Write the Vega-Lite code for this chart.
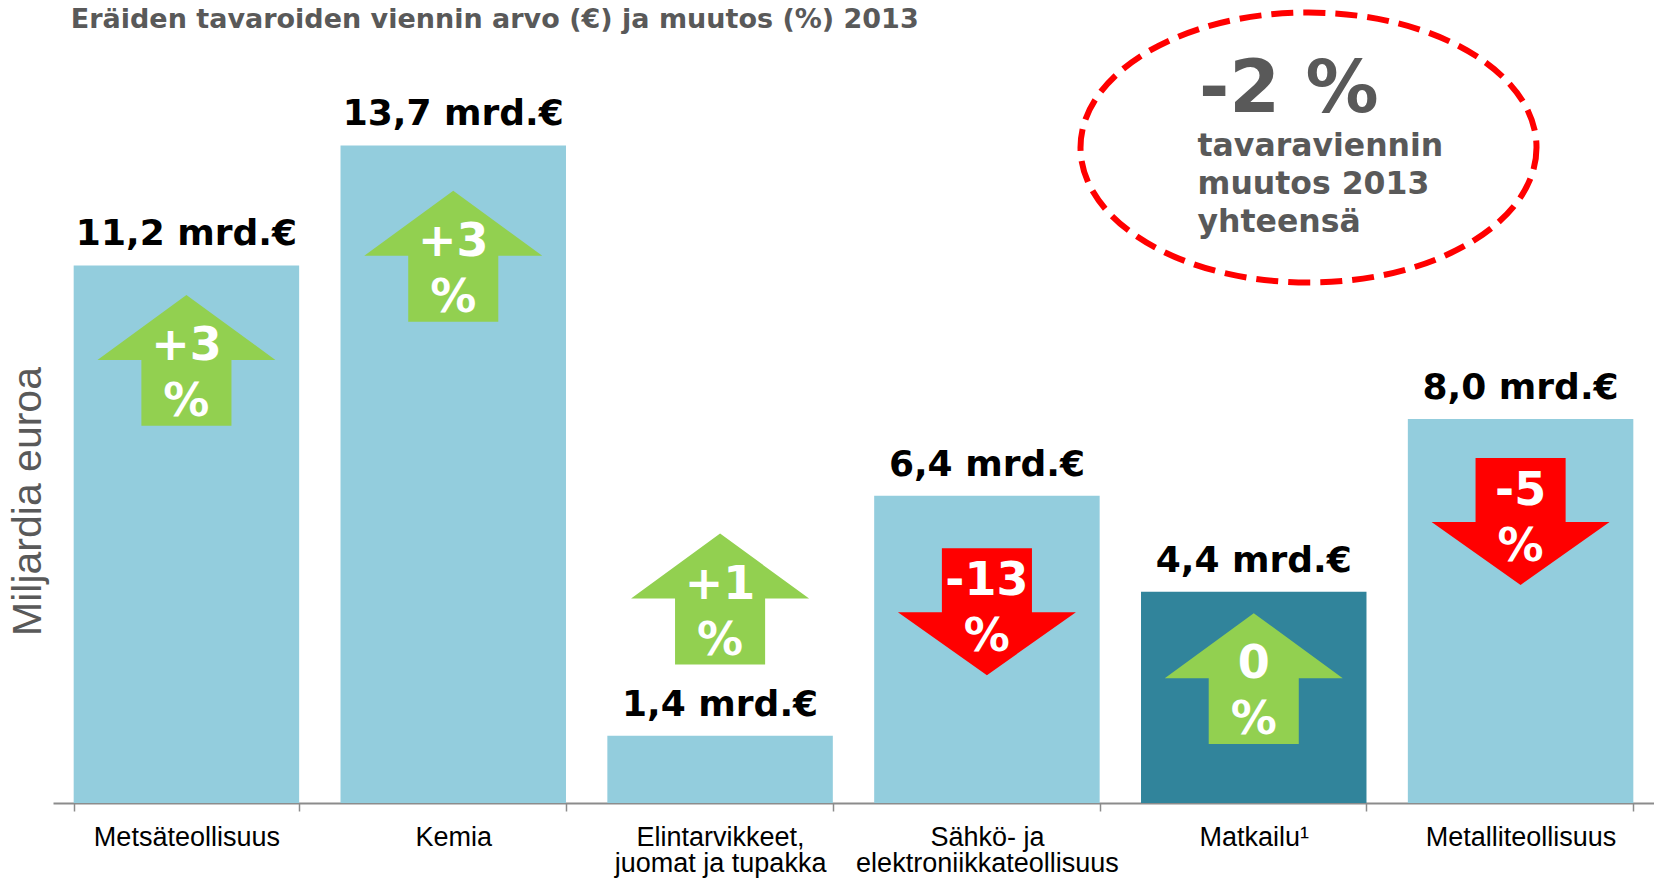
{
  "$schema": "https://vega.github.io/schema/vega-lite/v6.json",
  "width": 1601,
  "height": 768,
  "autosize": {"type": "none"},
  "padding": {"left": 53, "top": 35, "right": 0, "bottom": 75},
  "background": "#ffffff",
  "config": {"view": {"stroke": null}},
  "resolve": {"scale": {"x": "independent"}},
  "layer": [
    {
      "data": {
        "values": [
          {"sektori": "Metsäteollisuus", "arvo": 11.2, "muutos": "+3", "suunta": "ylös", "nuoli": 9.23},
          {"sektori": "Kemia", "arvo": 13.7, "muutos": "+3", "suunta": "ylös", "nuoli": 11.4},
          {"sektori": "Elintarvikkeet, juomat ja tupakka", "arvo": 1.4, "muutos": "+1", "suunta": "ylös", "nuoli": 4.26},
          {"sektori": "Sähkö- ja elektroniikkateollisuus", "arvo": 6.4, "muutos": "-13", "suunta": "alas", "nuoli": 4.33},
          {"sektori": "Matkailu¹", "arvo": 4.4, "muutos": "0", "suunta": "ylös", "nuoli": 2.6},
          {"sektori": "Metalliteollisuus", "arvo": 8.0, "muutos": "-5", "suunta": "alas", "nuoli": 6.21}
        ]
      },
      "transform": [
        {"calculate": "replace(format(datum.arvo, '.1f'), '.', ',') + ' mrd.€'", "as": "arvoTeksti"}
      ],
      "encoding": {
        "x": {
          "field": "sektori",
          "type": "nominal",
          "sort": null,
          "scale": {"paddingInner": 0.155, "paddingOuter": 0.0775},
          "axis": {
            "title": null,
            "domainColor": "#8C8C8C",
            "domainWidth": 2,
            "tickColor": "#8C8C8C",
            "tickWidth": 1.5,
            "tickSize": 8,
            "tickBand": "extent",
            "labelFont": "Liberation Sans",
            "labelFontSize": 27,
            "labelColor": "#000000",
            "labelPadding": 13,
            "labelBaseline": "top",
            "labelLineHeight": 26,
            "labelLimit": 0,
            "labelOverlap": false,
            "labelAngle": 0,
            "labelExpr": "datum.value == 'Elintarvikkeet, juomat ja tupakka' ? ['Elintarvikkeet,', 'juomat ja tupakka'] : datum.value == 'Sähkö- ja elektroniikkateollisuus' ? ['Sähkö- ja', 'elektroniikkateollisuus'] : datum.label"
          }
        }
      },
      "layer": [
        {
          "mark": {"type": "bar"},
          "encoding": {
            "y": {
              "field": "arvo",
              "type": "quantitative",
              "title": "Miljardia euroa",
              "scale": {"domain": [0, 16], "nice": false},
              "axis": {
                "title": "Miljardia euroa",
                "domain": false,
                "ticks": false,
                "labels": false,
                "grid": false,
                "titleFont": "Liberation Sans",
                "titleFontSize": 41,
                "titleFontWeight": "normal",
                "titleColor": "#595959",
                "titleX": -25,
                "titleY": 466,
                "titleAngle": -90,
                "titleAlign": "center",
                "titleBaseline": "middle"
              }
            },
            "color": {
              "condition": {"test": "datum.sektori === 'Matkailu¹'", "value": "#31849B"},
              "value": "#93CDDD"
            }
          }
        },
        {
          "mark": {"type": "text", "dy": -20, "baseline": "alphabetic", "align": "center", "font": "DejaVu Sans", "fontWeight": "bold", "fontSize": 36, "color": "#000000"},
          "encoding": {
            "y": {"field": "arvo", "type": "quantitative", "title": "Miljardia euroa"},
            "text": {"field": "arvoTeksti"}
          }
        },
        {
          "mark": {"type": "point", "filled": true, "size": 31684, "opacity": 1, "strokeWidth": 0},
          "encoding": {
            "y": {"field": "nuoli", "type": "quantitative", "title": "Miljardia euroa"},
            "shape": {
              "field": "suunta",
              "type": "nominal",
              "scale": {
                "domain": ["ylös", "alas"],
                "range": [
                  "M0,-0.73L1,0L0.506,0L0.506,0.74L-0.506,0.74L-0.506,0L-1,0Z",
                  "M-0.506,-0.528L0.506,-0.528L0.506,0.191L1,0.191L0,0.899L-1,0.191L-0.506,0.191Z"
                ]
              },
              "legend": null
            },
            "color": {
              "field": "suunta",
              "type": "nominal",
              "scale": {"domain": ["ylös", "alas"], "range": ["#92D050", "#FF0000"]},
              "legend": null
            }
          }
        },
        {
          "mark": {"type": "text", "baseline": "alphabetic", "align": "center", "font": "DejaVu Sans", "fontWeight": "bold", "fontSize": 46, "color": "#ffffff"},
          "encoding": {
            "y": {"field": "nuoli", "type": "quantitative", "title": "Miljardia euroa"},
            "text": {"field": "muutos"}
          }
        },
        {
          "mark": {"type": "text", "text": "%", "dy": 56, "baseline": "alphabetic", "align": "center", "font": "DejaVu Sans", "fontWeight": "bold", "fontSize": 46, "color": "#ffffff"},
          "encoding": {
            "y": {"field": "nuoli", "type": "quantitative", "title": "Miljardia euroa"}
          }
        }
      ]
    },
    {
      "data": {"values": [{"muutos": -2}]},
      "layer": [
        {
          "mark": {
            "type": "point",
            "shape": "M1,0C1,0.327,0.5523,0.5921,0,0.5921C-0.5523,0.5921,-1,0.327,-1,0C-1,-0.327,-0.5523,-0.5921,0,-0.5921C0.5523,-0.5921,1,-0.327,1,0Z",
            "size": 207936,
            "filled": false,
            "stroke": "#FF0000",
            "strokeWidth": 6,
            "strokeDash": [22, 10],
            "opacity": 1
          },
          "encoding": {
            "x": {"datum": 0.7842, "type": "quantitative", "scale": {"domain": [0, 1]}, "axis": null},
            "y": {"datum": 13.656, "type": "quantitative", "title": "Miljardia euroa"}
          }
        },
        {
          "mark": {"type": "text", "text": "-2 %", "align": "left", "baseline": "alphabetic", "font": "DejaVu Sans", "fontWeight": "bold", "fontSize": 73, "color": "#595959"},
          "encoding": {
            "x": {"datum": 0.7158, "type": "quantitative"},
            "y": {"datum": 14.396, "type": "quantitative", "title": "Miljardia euroa"}
          }
        },
        {
          "mark": {"type": "text", "text": ["tavaraviennin", "muutos 2013", "yhteensä"], "lineHeight": 37.7, "align": "left", "baseline": "alphabetic", "font": "DejaVu Sans", "fontWeight": "bold", "fontSize": 31.5, "color": "#595959"},
          "encoding": {
            "x": {"datum": 0.7149, "type": "quantitative"},
            "y": {"datum": 13.47, "type": "quantitative", "title": "Miljardia euroa"}
          }
        },
        {
          "mark": {"type": "text", "text": "Eräiden tavaroiden viennin arvo (€) ja muutos (%) 2013", "align": "left", "baseline": "alphabetic", "font": "DejaVu Sans", "fontWeight": "bold", "fontSize": 27, "color": "#595959"},
          "encoding": {
            "x": {"datum": 0.0111, "type": "quantitative"},
            "y": {"datum": 16.156, "type": "quantitative", "title": "Miljardia euroa"}
          }
        }
      ]
    }
  ]
}
